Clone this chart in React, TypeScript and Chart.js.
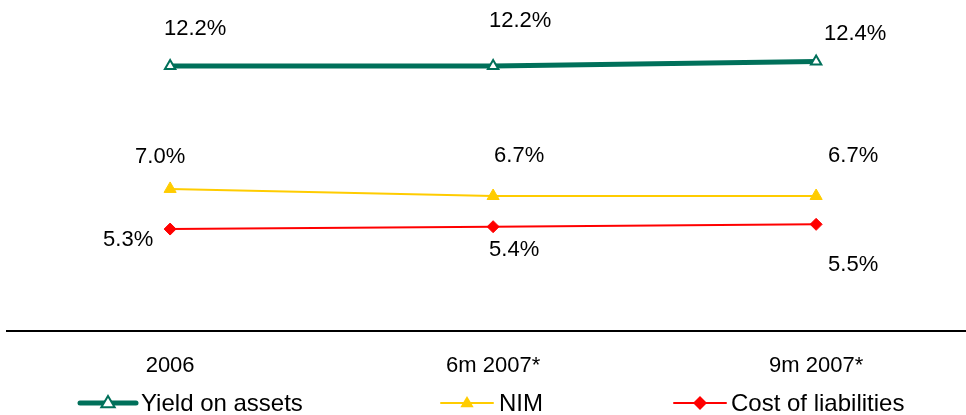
import React, { useEffect, useRef } from "react";
import { Chart, registerables } from "chart.js";

Chart.register(...registerables);

const categories = ["2006", "6m 2007*", "9m 2007*"];
const yieldOnAssets = [12.2, 12.2, 12.4];
const nim = [7.0, 6.7, 6.7];
const costOfLiabilities = [5.3, 5.4, 5.5];
const seriesNames = ["Yield on assets", "NIM", "Cost of liabilities"];

const GREEN = "#00705a";
const GOLD = "#ffcc00";
const RED = "#ff0000";
const FONT = "'Liberation Sans', Arial, sans-serif";

// label offsets from each point (px), per series
const labelOffsets = [
  [[25, -37], [27, -45], [39, -27]],
  [[-10, -32], [26, -40], [37, -40]],
  [[-42, 11], [21, 23], [37, 41]],
];

function drawMarker(ctx: CanvasRenderingContext2D, kind: string, x: number, y: number, r: number, fill: string, stroke: string, lw: number) {
  ctx.save();
  ctx.beginPath();
  if (kind === "triangle") {
    ctx.moveTo(x, y - r);
    ctx.lineTo(x + r * 0.95, y + r * 0.6);
    ctx.lineTo(x - r * 0.95, y + r * 0.6);
    ctx.closePath();
  } else {
    ctx.moveTo(x, y - r);
    ctx.lineTo(x + r, y);
    ctx.lineTo(x, y + r);
    ctx.lineTo(x - r, y);
    ctx.closePath();
  }
  ctx.fillStyle = fill;
  ctx.fill();
  if (lw > 0) {
    ctx.lineWidth = lw;
    ctx.strokeStyle = stroke;
    ctx.stroke();
  }
  ctx.restore();
}

const valueLabels = {
  id: "valueLabels",
  afterDatasetsDraw(chart: any) {
    const ctx = chart.ctx as CanvasRenderingContext2D;
    ctx.save();
    ctx.font = `22px ${FONT}`;
    ctx.fillStyle = "#000";
    ctx.textAlign = "center";
    ctx.textBaseline = "middle";
    chart.data.datasets.forEach((ds: any, i: number) => {
      const meta = chart.getDatasetMeta(i);
      meta.data.forEach((pt: any, j: number) => {
        const v = ds.data[j].y as number;
        const [dx, dy] = labelOffsets[i][j];
        ctx.fillText(`${v.toFixed(1)}%`, pt.x + dx, pt.y + dy);
      });
    });
    ctx.restore();
  },
};

const customLegend = {
  id: "customLegend",
  afterDraw(chart: any) {
    const ctx = chart.ctx as CanvasRenderingContext2D;
    const y = 403;
    const items = [
      { x0: 80, x1: 136, color: GREEN, lw: 5, kind: "triangle", fill: "#fff", stroke: GREEN, slw: 2, tx: 141 },
      { x0: 441, x1: 493, color: GOLD, lw: 2, kind: "triangle", fill: GOLD, stroke: GOLD, slw: 0, tx: 499 },
      { x0: 674, x1: 726, color: RED, lw: 2, kind: "diamond", fill: RED, stroke: RED, slw: 0, tx: 731 },
    ];
    ctx.save();
    items.forEach((it, i) => {
      ctx.beginPath();
      ctx.strokeStyle = it.color;
      ctx.lineWidth = it.lw;
      ctx.lineCap = "round";
      ctx.moveTo(it.x0, y);
      ctx.lineTo(it.x1, y);
      ctx.stroke();
      drawMarker(ctx, it.kind, (it.x0 + it.x1) / 2, y, 7, it.fill, it.stroke, it.slw);
      ctx.font = `24px ${FONT}`;
      ctx.fillStyle = "#000";
      ctx.textAlign = "left";
      ctx.textBaseline = "middle";
      ctx.fillText(seriesNames[i], it.tx, y + 1);
    });
    ctx.restore();
  },
};

const toPoints = (vals: number[]) => vals.map((v, i) => ({ x: i, y: v }));

export default function App() {
  const ref = useRef<HTMLCanvasElement | null>(null);

  useEffect(() => {
    document.body.style.margin = "0";
    const canvas = ref.current;
    if (!canvas) return;
    const chart = new Chart(canvas, {
      type: "line",
      data: {
        datasets: [
          {
            label: seriesNames[0],
            data: toPoints(yieldOnAssets),
            borderColor: GREEN,
            borderWidth: 5,
            pointStyle: "triangle",
            pointRadius: 6,
            pointBackgroundColor: "#ffffff",
            pointBorderColor: GREEN,
            pointBorderWidth: 2,
            tension: 0,
          },
          {
            label: seriesNames[1],
            data: toPoints(nim),
            borderColor: GOLD,
            borderWidth: 2,
            pointStyle: "triangle",
            pointRadius: 7,
            pointBackgroundColor: GOLD,
            pointBorderColor: GOLD,
            pointBorderWidth: 1,
            tension: 0,
          },
          {
            label: seriesNames[2],
            data: toPoints(costOfLiabilities),
            borderColor: RED,
            borderWidth: 2,
            pointStyle: "rectRot",
            pointRadius: 6,
            pointBackgroundColor: RED,
            pointBorderColor: RED,
            pointBorderWidth: 1,
            tension: 0,
          },
        ],
      },
      options: {
        animation: false,
        responsive: false,
        maintainAspectRatio: false,
        layout: { autoPadding: false, padding: { left: 7, right: 0, top: 0, bottom: 14 } },
        plugins: { legend: { display: false }, tooltip: { enabled: false } },
        scales: {
          x: {
            type: "linear",
            min: -0.505,
            max: 2.464,
            afterBuildTicks: (scale: any) => {
              scale.ticks = categories.map((_, i) => ({ value: i }));
            },
            afterFit: (scale: any) => {
              scale.paddingLeft = 0;
              scale.paddingRight = 0;
            },
            ticks: {
              autoSkip: false,
              maxRotation: 0,
              padding: 22,
              color: "#000",
              font: { family: FONT, size: 22 },
              callback: (v: any) => categories[v as number] ?? "",
            },
            grid: { display: true, color: "transparent", drawTicks: false },
            border: { display: true, color: "#000", width: 2 },
          },
          y: {
            display: false,
            min: 1,
            max: 15,
          },
        },
      },
      plugins: [valueLabels, customLegend],
    });
    return () => chart.destroy();
  }, []);

  return (
    <div style={{ position: "absolute", left: 0, top: 0, width: 966, height: 415, background: "#fff" }}>
      <canvas ref={ref} width={966} height={415} />
    </div>
  );
}
